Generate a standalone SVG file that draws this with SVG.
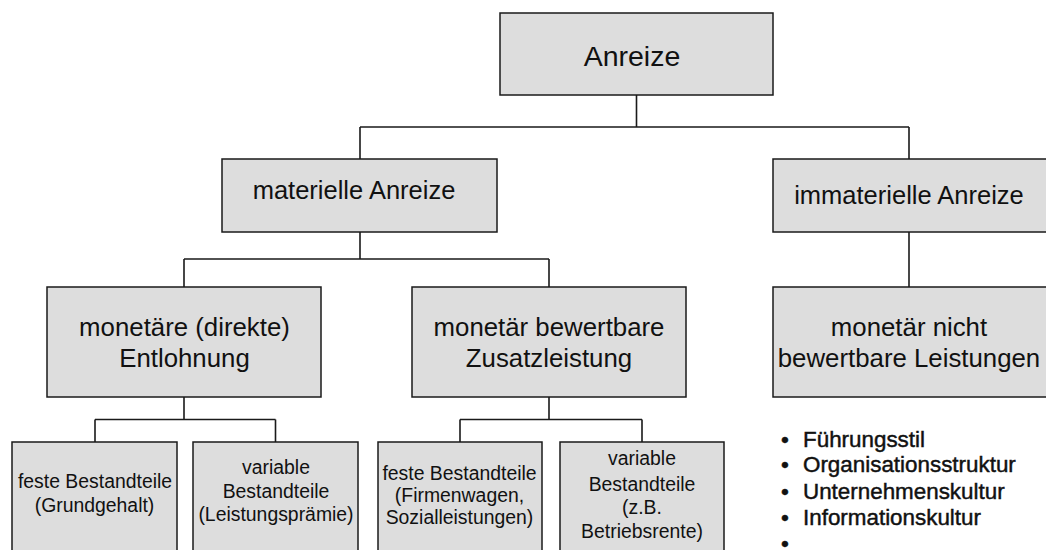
<svg xmlns="http://www.w3.org/2000/svg" width="1046" height="550" viewBox="0 0 1046 550">
<style>
.box{fill:#dddddd;stroke:#1a1a1a;stroke-width:1.5}
.con{fill:none;stroke:#1a1a1a;stroke-width:1.6}
text{font-family:"Liberation Sans",Arial,sans-serif;fill:#111;text-anchor:middle}
.t1{font-size:28.5px}
.t2{font-size:25.5px}
.t3{font-size:25.8px}
.t4{font-size:19.4px}
.bl{font-size:22.4px;text-anchor:start;stroke:#111;stroke-width:0.45}
</style>
<rect width="1046" height="550" fill="#ffffff"/>
<g id="connectors">
<path class="con" d="M636.5,95V127M360,127H909M360,127V159M909,127V159"/>
<path class="con" d="M360,232V259M184,259H549M184,259V287M549,259V287"/>
<path class="con" d="M909,232V287"/>
<path class="con" d="M184,397V419.5M95,419.5H275.5M95,419.5V442M275.5,419.5V442"/>
<path class="con" d="M549,397V419.5M460,419.5H642M460,419.5V442M642,419.5V442"/>
</g>
<g id="anreize">
<rect class="box" x="500" y="13" width="273" height="82"/>
<text class="t1" x="632" y="66">Anreize</text>
</g>
<g id="materielle">
<rect class="box" x="222" y="159" width="275" height="73"/>
<text class="t2" x="354" y="199">materielle Anreize</text>
</g>
<g id="immaterielle">
<rect class="box" x="773" y="159" width="285" height="73"/>
<text class="t2" x="909" y="204">immaterielle Anreize</text>
</g>
<g id="monetaere">
<rect class="box" x="47" y="287" width="274" height="110"/>
<text class="t3" x="184.5" y="336">monetäre (direkte)</text>
<text class="t3" x="184.5" y="367">Entlohnung</text>
</g>
<g id="bewertbar">
<rect class="box" x="412" y="287" width="274" height="110"/>
<text class="t3" x="549" y="336">monetär bewertbare</text>
<text class="t3" x="549" y="367">Zusatzleistung</text>
</g>
<g id="nichtbewertbar">
<rect class="box" x="773" y="287" width="285" height="110"/>
<text class="t3" x="909" y="336">monetär nicht</text>
<text class="t3" x="909" y="367">bewertbare Leistungen</text>
</g>
<g id="feste1">
<rect class="box" x="12" y="442" width="165" height="130"/>
<text class="t4" x="95" y="488">feste Bestandteile</text>
<text class="t4" x="94.5" y="512">(Grundgehalt)</text>
</g>
<g id="variable1">
<rect class="box" x="193" y="442" width="165" height="130"/>
<text class="t4" x="276" y="474">variable</text>
<text class="t4" x="276" y="498">Bestandteile</text>
<text class="t4" x="276" y="521">(Leistungsprämie)</text>
</g>
<g id="feste2">
<rect class="box" x="378" y="442" width="164" height="130"/>
<text class="t4" x="459.5" y="480">feste Bestandteile</text>
<text class="t4" x="459.5" y="502">(Firmenwagen,</text>
<text class="t4" x="459.5" y="524">Sozialleistungen)</text>
</g>
<g id="variable2">
<rect class="box" x="560" y="442" width="164" height="130"/>
<text class="t4" x="642" y="465">variable</text>
<text class="t4" x="642" y="491">Bestandteile</text>
<text class="t4" x="642" y="514">(z.B.</text>
<text class="t4" x="642" y="538">Betriebsrente)</text>
</g>
<g id="liste">
<text class="bl" x="781" y="446.5">•</text>
<text class="bl" x="803" y="446.5">Führungsstil</text>
<text class="bl" x="781" y="472">•</text>
<text class="bl" x="803" y="472">Organisationsstruktur</text>
<text class="bl" x="781" y="498.5">•</text>
<text class="bl" x="803" y="498.5">Unternehmenskultur</text>
<text class="bl" x="781" y="525">•</text>
<text class="bl" x="803" y="525">Informationskultur</text>
<text class="bl" x="781" y="551">•</text>
</g>
</svg>
